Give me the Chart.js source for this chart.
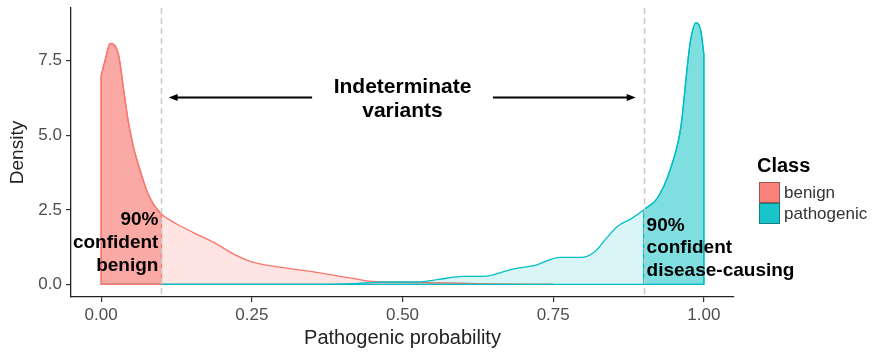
<!DOCTYPE html>
<html>
<head>
<meta charset="utf-8">
<script src="https://cdn.jsdelivr.net/npm/chart.js@4.4.1/dist/chart.umd.min.js"></script>
<style>
  html, body { margin: 0; padding: 0; background: #fff; }
  canvas { display: block; }
</style>
</head>
<body>
<canvas id="chart" width="875" height="353"></canvas>
<script>
// density curves
var benignX = [0, 0.007, 0.015, 0.029, 0.037, 0.045, 0.054, 0.065, 0.076, 0.087, 0.1, 0.126, 0.153, 0.187, 0.22, 0.253, 0.3, 0.36, 0.41, 0.45, 0.5, 0.58, 0.68, 0.75];
var benignY = [7.0, 7.55, 8.08, 7.69, 6.58, 5.47, 4.58, 3.8, 3.13, 2.69, 2.36, 2.02, 1.74, 1.41, 1.02, 0.74, 0.57, 0.4, 0.23, 0.1, 0.07, 0.05, 0.01, 0];

var pathoX = [0, 0.3, 0.42, 0.46, 0.53, 0.56, 0.6, 0.64, 0.663, 0.685, 0.718, 0.762, 0.796, 0.818, 0.835, 0.857, 0.879, 0.9, 0.923, 0.945, 0.962, 0.973, 0.978, 0.987, 0.995, 1.0];
var pathoY = [0, 0, 0.03, 0.08, 0.09, 0.17, 0.27, 0.28, 0.4, 0.52, 0.63, 0.91, 0.91, 1.08, 1.47, 1.95, 2.2, 2.5, 2.9, 3.9, 5.3, 7.4, 8.2, 8.77, 8.5, 7.7];

var xTicks = [0, 0.25, 0.5, 0.75, 1.0];
var yTicks = [0, 2.5, 5.0, 7.5];
var classNames = ['benign', 'pathogenic'];
var benignCut = 0.1;
var pathoCut = 0.9;

var RED = '#F8766D';
var TEAL = '#00BFC4';
var FONT = "'Liberation Sans', Arial, Helvetica, sans-serif";

function toPoints(xs, ys, from, to) {
    var pts = [];
    for (var i = 0; i < xs.length; i++) {
        if (xs[i] >= from && xs[i] <= to) {
            pts.push({ x: xs[i], y: ys[i] });
        }
    }
    return pts;
}

// closes a polygon outline: both sides down to zero plus the baseline
function outline(pts, color, order) {
    var first = pts[0];
    var last = pts[pts.length - 1];
    return {
        data: [
            { x: first.x, y: first.y }, { x: first.x, y: 0 },
            { x: last.x, y: 0 }, { x: last.x, y: last.y }
        ],
        borderColor: color,
        borderWidth: 1.3,
        pointRadius: 0,
        tension: 0,
        fill: false,
        order: order
    };
}

function area(pts, color, fillColor, order) {
    return {
        data: pts,
        borderColor: color,
        backgroundColor: fillColor,
        borderWidth: 1.3,
        pointRadius: 0,
        cubicInterpolationMode: 'monotone',
        fill: 'origin',
        order: order
    };
}

var benignAll = toPoints(benignX, benignY, 0, 1);
var pathoAll = toPoints(pathoX, pathoY, 0, 1);
var benignTail = toPoints(benignX, benignY, 0, benignCut);
var pathoTail = toPoints(pathoX, pathoY, pathoCut, 1);

var annotations = {
    id: 'annotations',
    afterDatasetsDraw: function (chart) {
        var ctx = chart.ctx;
        var xs = chart.scales.x;
        var ys = chart.scales.y;
        var area = chart.chartArea;
        var y0 = ys.getPixelForValue(0);

        ctx.save();
        // dashed cut-offs
        ctx.strokeStyle = '#c9c9c9';
        ctx.lineWidth = 1.5;
        ctx.setLineDash([6, 4]);
        [benignCut, pathoCut].forEach(function (v) {
            var px = Math.round(xs.getPixelForValue(v)) + 0.5;
            ctx.beginPath();
            ctx.moveTo(px, area.top);
            ctx.lineTo(px, area.bottom);
            ctx.stroke();
        });
        ctx.setLineDash([]);

        // arrows
        var ay = 97.5;
        ctx.strokeStyle = '#000';
        ctx.fillStyle = '#000';
        ctx.lineWidth = 2;
        function arrow(fromV, toV) {
            var x1 = xs.getPixelForValue(fromV);
            var x2 = xs.getPixelForValue(toV);
            var dir = x2 > x1 ? 1 : -1;
            ctx.beginPath();
            ctx.moveTo(x1, ay);
            ctx.lineTo(x2 - dir * 6, ay);
            ctx.stroke();
            ctx.beginPath();
            ctx.moveTo(x2, ay);
            ctx.lineTo(x2 - dir * 9, ay - 3.5);
            ctx.lineTo(x2 - dir * 9, ay + 3.5);
            ctx.closePath();
            ctx.fill();
        }
        arrow(0.35, 0.112);
        arrow(0.65, 0.887);

        ctx.fillStyle = '#000';
        ctx.textBaseline = 'alphabetic';
        ctx.font = 'bold 21px ' + FONT;
        ctx.textAlign = 'center';
        var cx = xs.getPixelForValue(0.5);
        ctx.fillText('Indeterminate', cx, 93);
        ctx.fillText('variants', cx, 117);

        ctx.font = 'bold 19px ' + FONT;
        ctx.textAlign = 'right';
        var lx = xs.getPixelForValue(benignCut) - 3;
        ctx.fillText('90%', lx, y0 - 59);
        ctx.fillText('confident', lx, y0 - 36);
        ctx.fillText('benign', lx, y0 - 13);

        ctx.textAlign = 'left';
        var rx = xs.getPixelForValue(pathoCut) + 3;
        ctx.fillText('90%', rx, y0 - 53);
        ctx.fillText('confident', rx, y0 - 31);
        ctx.fillText('disease-causing', rx, y0 - 8);

        // legend
        ctx.textAlign = 'left';
        ctx.font = 'bold 20px ' + FONT;
        ctx.fillStyle = '#000';
        ctx.fillText('Class', 757, 172);
        var colors = [RED, TEAL];
        ctx.font = '17px ' + FONT;
        ctx.textBaseline = 'middle';
        for (var i = 0; i < classNames.length; i++) {
            var top = 182 + i * 21;
            ctx.fillStyle = colors[i];
            ctx.globalAlpha = 0.9;
            ctx.fillRect(759, top, 21, 21);
            ctx.globalAlpha = 1;
            ctx.strokeStyle = 'rgba(0,0,0,0.35)';
            ctx.lineWidth = 1;
            ctx.strokeRect(759.5, top + 0.5, 20, 20);
            ctx.fillStyle = '#333';
            ctx.fillText(classNames[i], 784, top + 11);
        }
        ctx.restore();
    }
};

var ctx = document.getElementById('chart').getContext('2d');
new Chart(ctx, {
    type: 'line',
    data: {
        datasets: [
            area(benignAll, RED, 'rgba(248,118,109,0.2)', 6),
            outline(benignAll, RED, 5),
            area(pathoAll, TEAL, 'rgba(0,191,196,0.15)', 4),
            outline(pathoAll, TEAL, 3),
            area(benignTail, RED, 'rgba(248,118,109,0.53)', 2),
            outline(benignTail, RED, 1.5),
            area(pathoTail, TEAL, 'rgba(0,191,196,0.42)', 1),
            outline(pathoTail, TEAL, 0.5)
        ]
    },
    options: {
        responsive: false,
        animation: false,
        layout: { padding: { top: 8, right: 141, left: 0, bottom: 0 } },
        plugins: {
            legend: { display: false },
            tooltip: { enabled: false }
        },
        scales: {
            x: {
                type: 'linear',
                min: -0.05,
                max: 1.05,
                afterBuildTicks: function (scale) {
                    scale.ticks = xTicks.map(function (v) { return { value: v }; });
                },
                afterFit: function (scale) {
                    scale.height = 56;
                    scale.paddingLeft = 0;
                    scale.paddingRight = 0;
                },
                grid: { drawOnChartArea: false, drawTicks: true, tickLength: 5, color: '#333', lineWidth: 1.2 },
                border: { display: true, color: '#222', width: 1.3 },
                ticks: {
                    color: '#4d4d4d',
                    font: { size: 17, family: FONT },
                    padding: 3,
                    maxRotation: 0,
                    autoSkip: false,
                    callback: function (v) { return Number(v).toFixed(2); }
                },
                title: {
                    display: true,
                    text: 'Pathogenic probability',
                    color: '#222',
                    font: { size: 20, family: FONT },
                    padding: { top: 0, bottom: 3 }
                }
            },
            y: {
                type: 'linear',
                min: -0.42,
                max: 9.27,
                afterBuildTicks: function (scale) {
                    scale.ticks = yTicks.map(function (v) { return { value: v }; });
                },
                afterFit: function (scale) {
                    scale.width = 71;
                    scale.paddingTop = 0;
                    scale.paddingBottom = 0;
                },
                grid: { drawOnChartArea: false, drawTicks: true, tickLength: 5, color: '#333', lineWidth: 1.2 },
                border: { display: true, color: '#222', width: 1.3 },
                ticks: {
                    color: '#4d4d4d',
                    font: { size: 17, family: FONT },
                    padding: 4,
                    autoSkip: false,
                    callback: function (v) { return Number(v).toFixed(1); }
                },
                title: {
                    display: true,
                    text: 'Density',
                    color: '#222',
                    font: { size: 19, family: FONT },
                    padding: { top: 6.6, bottom: 0 }
                }
            }
        }
    },
    plugins: [annotations]
});
</script>
</body>
</html>
